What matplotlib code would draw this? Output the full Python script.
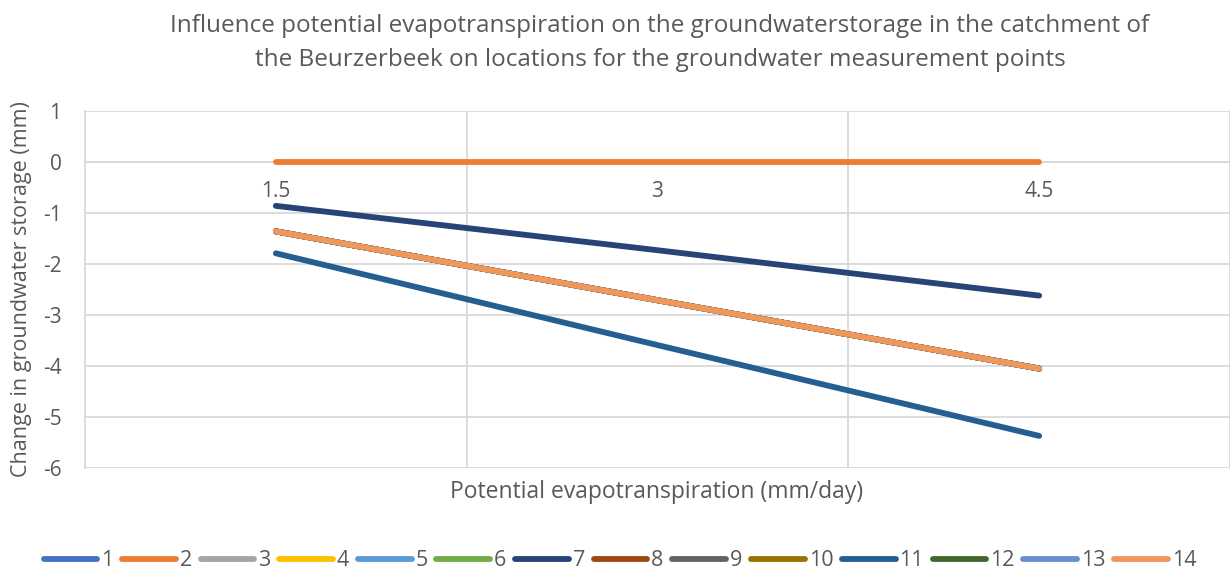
import matplotlib
matplotlib.use("Agg")
import matplotlib.pyplot as plt
from matplotlib.ticker import MultipleLocator, FixedLocator

plt.rcParams['font.family'] = ['Open Sans', 'DejaVu Sans']
plt.rcParams['axes.unicode_minus'] = False

# Potential evapotranspiration categories (mm/day)
categories = ["1.5", "3", "4.5"]

# Change in groundwater storage (mm) for each measurement point
series_names = [str(i) for i in range(1, 15)]
s1 = [-1.36, -2.71, -4.05]
s2 = [0.0, 0.0, 0.0]
s3 = [-1.36, -2.71, -4.05]
s4 = [-1.36, -2.71, -4.05]
s5 = [-1.36, -2.71, -4.05]
s6 = [-1.36, -2.71, -4.05]
s7 = [-0.86, -1.73, -2.62]
s8 = [-1.36, -2.71, -4.05]
s9 = [-1.36, -2.71, -4.05]
s10 = [-1.36, -2.71, -4.05]
s11 = [-1.79, -3.59, -5.37]
s12 = [-1.36, -2.71, -4.05]
s13 = [-1.36, -2.71, -4.05]
s14 = [-1.36, -2.71, -4.05]
values = [s1, s2, s3, s4, s5, s6, s7, s8, s9, s10, s11, s12, s13, s14]

colors = ["#4472C4", "#ED7D31", "#A5A5A5", "#FFC000", "#5B9BD5", "#70AD47",
          "#264478", "#9E480E", "#636363", "#997300", "#255E91", "#43682B",
          "#698ED0", "#F1975A"]

grid_c = "#D9D9D9"
text_c = "#595959"

fig = plt.figure(figsize=(12.3, 5.7), dpi=100)
ax = fig.add_axes([85 / 1230, 1 - 468 / 570, 1145 / 1230, (468 - 111) / 570])

x = list(range(len(categories)))
handles = []
for name, vals, c in zip(series_names, values, colors):
    h, = ax.plot(x, vals, color=c, lw=4.2, solid_capstyle='round', label=name, zorder=3)
    handles.append(h)

ax.set_xlim(-0.5, len(categories) - 0.5)
ax.set_ylim(-6, 1)
ax.yaxis.set_major_locator(MultipleLocator(1))
ax.set_xticks(x)
ax.set_xticklabels(categories)
ax.xaxis.set_minor_locator(FixedLocator([0.5, 1.5]))

ax.grid(axis='y', which='major', color=grid_c, lw=1.3)
ax.grid(axis='x', which='minor', color=grid_c, lw=1.3)
ax.set_axisbelow(True)

# category axis crosses at zero
ax.spines['bottom'].set_position(('data', 0))
for sp in ['bottom', 'left', 'right']:
    ax.spines[sp].set_color(grid_c)
    ax.spines[sp].set_linewidth(1.3)
    ax.spines[sp].set_zorder(1)
ax.spines['top'].set_visible(False)

ax.tick_params(axis='both', which='both', length=0, labelsize=15, labelcolor=text_c)
ax.tick_params(axis='x', pad=14)
ax.tick_params(axis='y', pad=17)

fig.text(660 / 1230, 1 - 43 / 570,
         "Influence potential evapotranspiration on the groundwaterstorage in the catchment of\n"
         "the Beurzerbeek on locations for the groundwater measurement points",
         ha='center', va='center', fontsize=17.5, color=text_c, linespacing=1.55)
fig.text(657 / 1230, 1 - 492 / 570, "Potential evapotranspiration (mm/day)",
         ha='center', va='center', fontsize=16.5, color=text_c)
fig.text(22 / 1230, 1 - 289 / 570, "Change in groundwater storage (mm)",
         ha='center', va='center', rotation=90, fontsize=15.5, color=text_c)

leg = fig.legend(handles=handles, labels=series_names, loc='center',
                 bbox_to_anchor=(620 / 1230, 1 - 561 / 570), ncol=14, frameon=False,
                 fontsize=15.5, handlelength=2.5, handletextpad=0.18, columnspacing=0.4,
                 labelcolor=text_c, borderpad=0, borderaxespad=0)

fig.savefig("out.png", dpi=100, facecolor="white")
